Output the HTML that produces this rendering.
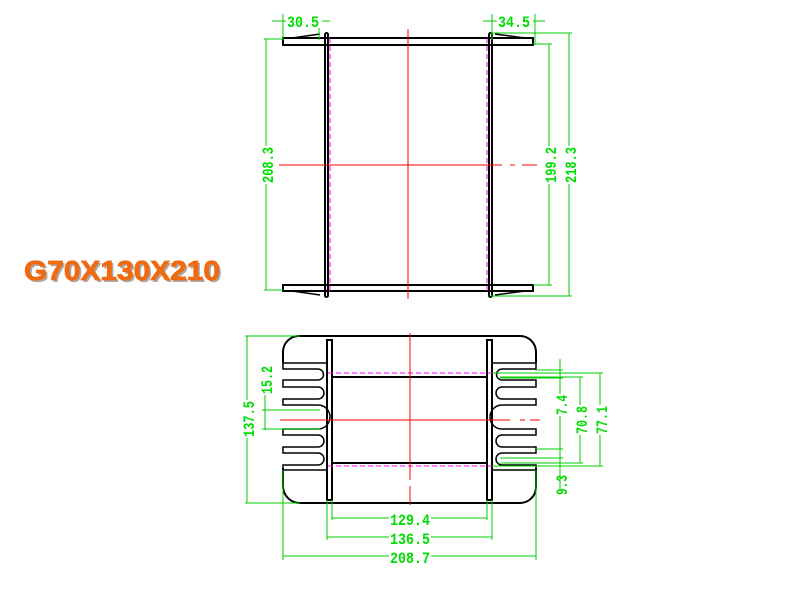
<!DOCTYPE html><html><head><style>body{margin:0;background:#fff}svg{display:block}</style></head><body>
<svg width="800" height="600" viewBox="0 0 800 600" xmlns="http://www.w3.org/2000/svg" font-family="Liberation Sans, sans-serif">
<text x="26" y="282" font-size="28" font-weight="bold" fill="#555" opacity="0.5" textLength="196" lengthAdjust="spacingAndGlyphs">G70X130X210</text>
<text x="24" y="280" font-size="28" font-weight="bold" fill="#f26a10" stroke="#f26a10" stroke-width="0.8" textLength="196" lengthAdjust="spacingAndGlyphs">G70X130X210</text>
<!-- top view -->
<g stroke="#000" stroke-width="2" fill="none">
<rect x="283" y="38" width="250" height="7"/><rect x="283" y="285" width="250" height="6"/>
<rect x="325" y="33" width="3" height="264" rx="1.5"/><rect x="489" y="33" width="3" height="264" rx="1.5"/>
<path d="M292 38 L320 34 M292 291 L320 295 M525 38 L495 34 M525 291 L495 295" stroke-width="1.5"/>
</g>
<g stroke="#f0f" stroke-width="1" stroke-dasharray="5,3"><line x1="330" y1="38" x2="330" y2="291"/><line x1="487" y1="38" x2="487" y2="291"/></g>
<g stroke="#f00" stroke-width="1"><line x1="408" y1="29" x2="408" y2="299"/><line x1="279" y1="165" x2="502" y2="165"/><line x1="510" y1="165" x2="515" y2="165"/><line x1="522" y1="165" x2="537" y2="165"/></g>
<g stroke="#0c0" stroke-width="1" fill="none">
<line x1="272" y1="21" x2="330" y2="21"/><line x1="283" y1="14" x2="283" y2="40"/><line x1="319" y1="14" x2="319" y2="40"/>
<line x1="483" y1="21" x2="545" y2="21"/><line x1="492" y1="14" x2="492" y2="40"/><line x1="535" y1="14" x2="535" y2="45"/>
<line x1="266" y1="39" x2="266" y2="290"/><line x1="264" y1="39" x2="283" y2="39"/><line x1="264" y1="290" x2="283" y2="290"/>
<line x1="549" y1="44" x2="549" y2="285"/><line x1="533" y1="44" x2="552" y2="44"/><line x1="533" y1="285" x2="552" y2="285"/>
<line x1="569" y1="33" x2="569" y2="296"/><line x1="491" y1="33" x2="572" y2="33"/><line x1="491" y1="296" x2="572" y2="296"/>
</g>
<g fill="#0d0" font-family="Liberation Mono, monospace" font-size="16" font-weight="bold">
<rect x="286" y="12" width="36" height="16" fill="#fff"/><text x="287" y="27" textLength="32" lengthAdjust="spacingAndGlyphs">30.5</text>
<rect x="497" y="12" width="36" height="16" fill="#fff"/><text x="498" y="27" textLength="32" lengthAdjust="spacingAndGlyphs">34.5</text>
<g transform="translate(273,165) rotate(-90)"><rect x="-19" y="-12" width="38" height="14" fill="#fff"/><text x="-18" y="0" textLength="36" lengthAdjust="spacingAndGlyphs">208.3</text></g>
<g transform="translate(556,165) rotate(-90)"><rect x="-19" y="-12" width="38" height="14" fill="#fff"/><text x="-18" y="0" textLength="36" lengthAdjust="spacingAndGlyphs">199.2</text></g>
<g transform="translate(576,165) rotate(-90)"><rect x="-19" y="-12" width="38" height="14" fill="#fff"/><text x="-18" y="0" textLength="36" lengthAdjust="spacingAndGlyphs">218.3</text></g>
</g>
<!-- bottom view -->
<g stroke="#000" stroke-width="2" fill="none">
<path d="M300 336 H520 A16 16 0 0 1 536 352 V363 M536 468 V487 A16 16 0 0 1 520 503 H300 A17 17 0 0 1 283 486 V468 M283 363 V352 A16 16 0 0 1 300 336"/>
<rect x="327" y="340" width="5" height="160"/><rect x="487" y="340" width="5" height="160"/>
<line x1="332" y1="377" x2="487" y2="377"/><line x1="332" y1="463" x2="487" y2="463"/>
<g stroke-width="1.5">
<path d="M327 363 H283 V369 H318 A4 4 0 0 1 318 380 H283 V387 H318 A4 4 0 0 1 318 399 H283 V405 H318 A10 10 0 0 1 318 429 H283 V435 H318 A4 4 0 0 1 318 447 H283 V453 H318 A4 4 0 0 1 318 465 H283 V470 H327"/>
<path d="M492 363 H536 V369 H502 A4 4 0 0 0 502 380 H536 V387 H502 A4 4 0 0 0 502 399 H536 V405 H502 A10 10 0 0 0 502 429 H536 V435 H502 A4 4 0 0 0 502 447 H536 V453 H502 A4 4 0 0 0 502 465 H536 V470 H492"/>
</g></g>
<g stroke="#f0f" stroke-width="1" stroke-dasharray="5,3"><line x1="328" y1="373" x2="492" y2="373"/><line x1="328" y1="466" x2="492" y2="466"/></g>
<g stroke="#f00" stroke-width="1"><line x1="410" y1="333" x2="410" y2="480"/><line x1="410" y1="486" x2="410" y2="505"/><line x1="280" y1="420" x2="510" y2="420"/><line x1="520" y1="420" x2="525" y2="420"/><line x1="530" y1="420" x2="540" y2="420"/></g>
<g stroke="#0c0" stroke-width="1" fill="none">
<line x1="247" y1="336" x2="247" y2="503"/><line x1="245" y1="336" x2="300" y2="336"/><line x1="245" y1="503" x2="300" y2="503"/>
<line x1="265" y1="395" x2="265" y2="430"/><line x1="262" y1="410" x2="320" y2="410"/><line x1="262" y1="429" x2="320" y2="429"/>
<line x1="332" y1="518" x2="487" y2="518"/><line x1="332" y1="500" x2="332" y2="520"/><line x1="487" y1="500" x2="487" y2="520"/>
<line x1="327" y1="537" x2="492" y2="537"/><line x1="327" y1="500" x2="327" y2="540"/><line x1="492" y1="500" x2="492" y2="540"/>
<line x1="283" y1="556" x2="536" y2="556"/><line x1="283" y1="470" x2="283" y2="560"/><line x1="536" y1="470" x2="536" y2="560"/>
<line x1="560" y1="359" x2="560" y2="490"/><line x1="535" y1="370" x2="563" y2="370"/><line x1="500" y1="378" x2="563" y2="378"/><line x1="535" y1="449" x2="563" y2="449"/><line x1="500" y1="458" x2="563" y2="458"/>
<line x1="580" y1="377" x2="580" y2="463"/><line x1="500" y1="377" x2="583" y2="377"/><line x1="500" y1="463" x2="583" y2="463"/>
<line x1="600" y1="373" x2="600" y2="466"/><line x1="492" y1="373" x2="603" y2="373"/><line x1="492" y1="466" x2="603" y2="466"/>
</g>
<g fill="#0d0" font-family="Liberation Mono, monospace" font-size="16" font-weight="bold">
<rect x="389" y="510" width="42" height="16" fill="#fff"/><text x="390" y="525" textLength="40" lengthAdjust="spacingAndGlyphs">129.4</text>
<rect x="389" y="529" width="42" height="16" fill="#fff"/><text x="390" y="544" textLength="40" lengthAdjust="spacingAndGlyphs">136.5</text>
<rect x="389" y="548" width="42" height="16" fill="#fff"/><text x="390" y="563" textLength="40" lengthAdjust="spacingAndGlyphs">208.7</text>
<g transform="translate(254,419) rotate(-90)"><rect x="-19" y="-12" width="38" height="14" fill="#fff"/><text x="-18" y="0" textLength="36" lengthAdjust="spacingAndGlyphs">137.5</text></g>
<g transform="translate(272,380) rotate(-90)"><text x="-14" y="0" textLength="28" lengthAdjust="spacingAndGlyphs">15.2</text></g>
<g transform="translate(567,405) rotate(-90)"><rect x="-11" y="-12" width="22" height="14" fill="#fff"/><text x="-10" y="0" textLength="20" lengthAdjust="spacingAndGlyphs">7.4</text></g>
<g transform="translate(567,485) rotate(-90)"><text x="-10" y="0" textLength="20" lengthAdjust="spacingAndGlyphs">9.3</text></g>
<g transform="translate(587,420) rotate(-90)"><rect x="-15" y="-12" width="30" height="14" fill="#fff"/><text x="-14" y="0" textLength="28" lengthAdjust="spacingAndGlyphs">70.8</text></g>
<g transform="translate(607,420) rotate(-90)"><rect x="-15" y="-12" width="30" height="14" fill="#fff"/><text x="-14" y="0" textLength="28" lengthAdjust="spacingAndGlyphs">77.1</text></g>
</g>
</svg></body></html>
